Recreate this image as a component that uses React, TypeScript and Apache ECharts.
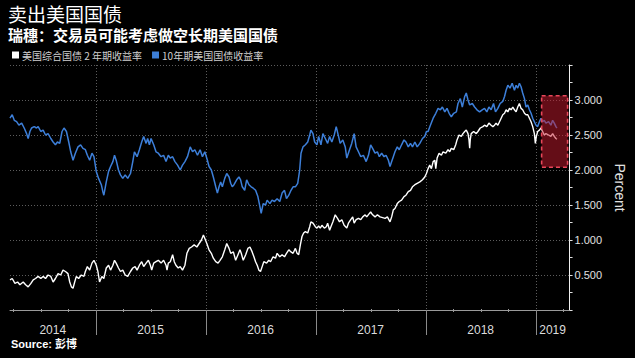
import React, { useEffect, useRef } from 'react';
import * as echarts from 'echarts';

const LATIN = "'Liberation Sans', 'Noto Sans CJK SC', sans-serif";
const CJK = "'Noto Sans CJK SC', 'Liberation Sans', sans-serif";

const titleText = '卖出美国国债';
const subtitleText = '瑞穗：交易员可能考虑做空长期美国国债';
const sourceText = 'Source: 彭博';
const twoYearName = '美国综合国债 2 年期收益率';
const tenYearName = '10年期美国国债收益率';

// x axis: fractional years
const xMin = 2014.222;
const xMax = 2019.308;
const yearStarts = [2015, 2016, 2017, 2018, 2019];
const yearLabels = ['2014', '2015', '2016', '2017', '2018', '2019'];
const yearLabelPos = [2014.611, 2015.5, 2016.5, 2017.5, 2018.5, 2019.154];
const quarterTicks = [
  2014.25, 2014.5, 2014.75, 2015.25, 2015.5, 2015.75, 2016.25, 2016.5, 2016.75,
  2017.25, 2017.5, 2017.75, 2018.25, 2018.5, 2018.75, 2019.25,
];
// highlighted zone [x0, yLow, x1, yHigh]
const highlightBox = [2019.054, 2.04, 2019.29, 3.06];

const tenYear: [number, number][] = [
  [2014.222, 2.74], [2014.242, 2.79], [2014.261, 2.71], [2014.282, 2.69], [2014.303, 2.64],
  [2014.328, 2.67], [2014.351, 2.6], [2014.373, 2.52], [2014.387, 2.45], [2014.403, 2.55],
  [2014.418, 2.6], [2014.442, 2.62], [2014.463, 2.6], [2014.478, 2.62], [2014.502, 2.55],
  [2014.523, 2.57], [2014.545, 2.5], [2014.568, 2.52], [2014.593, 2.45], [2014.614, 2.4],
  [2014.635, 2.36], [2014.653, 2.4], [2014.674, 2.38], [2014.695, 2.55], [2014.713, 2.6],
  [2014.735, 2.55], [2014.756, 2.4], [2014.774, 2.26], [2014.795, 2.14], [2014.816, 2.24],
  [2014.84, 2.33], [2014.864, 2.36], [2014.885, 2.31], [2014.907, 2.29], [2014.925, 2.21],
  [2014.946, 2.14], [2014.967, 2.24], [2014.985, 2.19], [2015.006, 1.98], [2015.027, 1.88],
  [2015.052, 1.79], [2015.066, 1.69], [2015.075, 1.64], [2015.097, 1.83], [2015.118, 1.98],
  [2015.136, 2.05], [2015.157, 2.12], [2015.172, 2.21], [2015.187, 2.14], [2015.208, 2.0],
  [2015.226, 1.93], [2015.247, 1.88], [2015.269, 1.93], [2015.292, 1.88], [2015.317, 1.95],
  [2015.338, 2.12], [2015.353, 2.26], [2015.377, 2.19], [2015.398, 2.29], [2015.419, 2.4],
  [2015.437, 2.48], [2015.459, 2.38], [2015.473, 2.45], [2015.489, 2.36], [2015.504, 2.45],
  [2015.528, 2.36], [2015.549, 2.26], [2015.57, 2.24], [2015.595, 2.19], [2015.618, 2.21],
  [2015.64, 2.12], [2015.661, 2.21], [2015.679, 2.17], [2015.7, 2.19], [2015.721, 2.12],
  [2015.745, 2.07], [2015.769, 2.0], [2015.79, 2.07], [2015.812, 2.12], [2015.835, 2.19],
  [2015.86, 2.33], [2015.881, 2.26], [2015.902, 2.29], [2015.926, 2.21], [2015.95, 2.29],
  [2015.971, 2.19], [2015.993, 2.26], [2016.016, 2.14], [2016.031, 2.05], [2016.052, 2.0],
  [2016.07, 1.9], [2016.092, 1.76], [2016.107, 1.67], [2016.122, 1.76], [2016.137, 1.83],
  [2016.152, 1.76], [2016.174, 1.88], [2016.192, 1.95], [2016.213, 1.9], [2016.228, 1.81],
  [2016.242, 1.76], [2016.258, 1.79], [2016.282, 1.86], [2016.303, 1.9], [2016.318, 1.86],
  [2016.333, 1.76], [2016.355, 1.71], [2016.373, 1.86], [2016.394, 1.79], [2016.414, 1.76],
  [2016.433, 1.74], [2016.454, 1.71], [2016.475, 1.62], [2016.493, 1.48], [2016.505, 1.38],
  [2016.523, 1.52], [2016.545, 1.5], [2016.559, 1.57], [2016.584, 1.52], [2016.604, 1.57],
  [2016.626, 1.55], [2016.65, 1.59], [2016.674, 1.55], [2016.695, 1.67], [2016.717, 1.71],
  [2016.735, 1.59], [2016.756, 1.64], [2016.776, 1.71], [2016.795, 1.76], [2016.816, 1.76],
  [2016.837, 1.81], [2016.855, 2.0], [2016.867, 2.24], [2016.885, 2.33], [2016.907, 2.36],
  [2016.928, 2.4], [2016.946, 2.5], [2016.957, 2.57], [2016.976, 2.52], [2016.991, 2.4],
  [2017.012, 2.36], [2017.027, 2.48], [2017.048, 2.36], [2017.066, 2.52], [2017.088, 2.45],
  [2017.109, 2.38], [2017.127, 2.48], [2017.147, 2.4], [2017.169, 2.5], [2017.187, 2.62],
  [2017.208, 2.48], [2017.223, 2.38], [2017.247, 2.43], [2017.269, 2.33], [2017.283, 2.17],
  [2017.308, 2.29], [2017.328, 2.38], [2017.35, 2.52], [2017.368, 2.33], [2017.389, 2.26],
  [2017.41, 2.19], [2017.434, 2.21], [2017.459, 2.12], [2017.48, 2.21], [2017.5, 2.36],
  [2017.518, 2.31], [2017.54, 2.24], [2017.561, 2.26], [2017.579, 2.19], [2017.6, 2.24],
  [2017.622, 2.19], [2017.64, 2.21], [2017.661, 2.14], [2017.676, 2.05], [2017.691, 2.12],
  [2017.706, 2.19], [2017.721, 2.26], [2017.742, 2.33], [2017.76, 2.29], [2017.781, 2.36],
  [2017.803, 2.43], [2017.821, 2.4], [2017.842, 2.33], [2017.862, 2.38], [2017.88, 2.33],
  [2017.902, 2.4], [2017.923, 2.33], [2017.947, 2.38], [2017.971, 2.45], [2017.992, 2.48],
  [2018.007, 2.55], [2018.022, 2.55], [2018.043, 2.64], [2018.068, 2.74], [2018.092, 2.81],
  [2018.113, 2.88], [2018.134, 2.86], [2018.152, 2.9], [2018.174, 2.83], [2018.194, 2.88],
  [2018.213, 2.81], [2018.233, 2.76], [2018.255, 2.81], [2018.279, 2.83], [2018.294, 2.95],
  [2018.315, 3.02], [2018.333, 2.9], [2018.355, 3.05], [2018.369, 3.1], [2018.385, 3.0],
  [2018.4, 2.93], [2018.424, 2.95], [2018.445, 2.9], [2018.466, 2.86], [2018.49, 2.83],
  [2018.514, 2.86], [2018.535, 2.88], [2018.556, 2.83], [2018.575, 2.9], [2018.595, 2.86],
  [2018.617, 2.95], [2018.635, 2.83], [2018.656, 2.88], [2018.677, 2.95], [2018.701, 2.98],
  [2018.717, 3.05], [2018.731, 3.14], [2018.747, 3.21], [2018.767, 3.17], [2018.786, 3.24],
  [2018.807, 3.14], [2018.822, 3.21], [2018.837, 3.17], [2018.852, 3.24], [2018.867, 3.19],
  [2018.882, 3.1], [2018.898, 3.02], [2018.912, 2.9], [2018.928, 2.93], [2018.943, 2.86],
  [2018.958, 2.81], [2018.973, 2.74], [2018.988, 2.69], [2019.003, 2.64], [2019.018, 2.62],
  [2019.034, 2.69], [2019.048, 2.74], [2019.063, 2.69], [2019.078, 2.71], [2019.093, 2.67],
  [2019.117, 2.69], [2019.138, 2.64], [2019.154, 2.71], [2019.169, 2.67], [2019.184, 2.62],
  [2019.193, 2.6],
];

const twoYear: [number, number][] = [
  [2014.222, 0.43], [2014.242, 0.45], [2014.267, 0.38], [2014.291, 0.4], [2014.312, 0.36],
  [2014.342, 0.4], [2014.364, 0.36], [2014.387, 0.33], [2014.412, 0.38], [2014.433, 0.43],
  [2014.454, 0.45], [2014.478, 0.48], [2014.502, 0.45], [2014.523, 0.48], [2014.545, 0.45],
  [2014.568, 0.5], [2014.593, 0.48], [2014.614, 0.4], [2014.635, 0.45], [2014.659, 0.52],
  [2014.683, 0.5], [2014.704, 0.57], [2014.726, 0.55], [2014.749, 0.52], [2014.765, 0.4],
  [2014.78, 0.33], [2014.795, 0.31], [2014.81, 0.4], [2014.825, 0.48], [2014.846, 0.45],
  [2014.87, 0.5], [2014.894, 0.48], [2014.907, 0.55], [2014.925, 0.62], [2014.946, 0.57],
  [2014.967, 0.67], [2014.985, 0.71], [2015.006, 0.64], [2015.021, 0.55], [2015.036, 0.4],
  [2015.057, 0.48], [2015.075, 0.45], [2015.097, 0.6], [2015.118, 0.64], [2015.136, 0.57],
  [2015.157, 0.64], [2015.172, 0.71], [2015.187, 0.67], [2015.208, 0.6], [2015.226, 0.55],
  [2015.247, 0.57], [2015.269, 0.5], [2015.292, 0.48], [2015.317, 0.55], [2015.338, 0.6],
  [2015.359, 0.62], [2015.377, 0.57], [2015.398, 0.64], [2015.419, 0.69], [2015.437, 0.62],
  [2015.459, 0.67], [2015.48, 0.71], [2015.498, 0.64], [2015.51, 0.57], [2015.528, 0.67],
  [2015.549, 0.69], [2015.57, 0.71], [2015.595, 0.67], [2015.618, 0.71], [2015.64, 0.64],
  [2015.649, 0.57], [2015.661, 0.67], [2015.679, 0.69], [2015.7, 0.79], [2015.715, 0.69],
  [2015.73, 0.64], [2015.751, 0.6], [2015.769, 0.62], [2015.79, 0.57], [2015.812, 0.64],
  [2015.83, 0.81], [2015.851, 0.88], [2015.872, 0.9], [2015.896, 0.93], [2015.92, 0.9],
  [2015.941, 0.95], [2015.962, 1.0], [2015.98, 1.07], [2015.993, 1.02], [2016.011, 0.95],
  [2016.031, 0.86], [2016.052, 0.81], [2016.07, 0.74], [2016.092, 0.69], [2016.113, 0.67],
  [2016.131, 0.71], [2016.152, 0.76], [2016.174, 0.86], [2016.192, 0.95], [2016.213, 0.88],
  [2016.228, 0.81], [2016.252, 0.83], [2016.273, 0.71], [2016.294, 0.79], [2016.312, 0.86],
  [2016.324, 0.81], [2016.342, 0.71], [2016.364, 0.79], [2016.384, 0.88], [2016.403, 0.9],
  [2016.423, 0.83], [2016.439, 0.76], [2016.454, 0.69], [2016.469, 0.64], [2016.484, 0.57],
  [2016.499, 0.55], [2016.514, 0.62], [2016.529, 0.69], [2016.554, 0.67], [2016.574, 0.71],
  [2016.59, 0.69], [2016.613, 0.76], [2016.635, 0.74], [2016.65, 0.81], [2016.674, 0.76],
  [2016.695, 0.79], [2016.717, 0.76], [2016.735, 0.81], [2016.756, 0.86], [2016.776, 0.83],
  [2016.795, 0.81], [2016.816, 0.88], [2016.831, 0.81], [2016.846, 0.79], [2016.861, 0.93],
  [2016.876, 1.05], [2016.891, 1.1], [2016.907, 1.12], [2016.928, 1.1], [2016.946, 1.19],
  [2016.957, 1.26], [2016.976, 1.24], [2016.997, 1.19], [2017.012, 1.17], [2017.027, 1.2],
  [2017.042, 1.17], [2017.057, 1.21], [2017.079, 1.17], [2017.097, 1.19], [2017.109, 1.24],
  [2017.127, 1.14], [2017.139, 1.19], [2017.157, 1.26], [2017.178, 1.36], [2017.199, 1.31],
  [2017.217, 1.26], [2017.238, 1.29], [2017.259, 1.21], [2017.283, 1.17], [2017.298, 1.24],
  [2017.319, 1.29], [2017.337, 1.33], [2017.35, 1.24], [2017.368, 1.29], [2017.389, 1.31],
  [2017.41, 1.29], [2017.428, 1.33], [2017.45, 1.36], [2017.464, 1.33], [2017.489, 1.38],
  [2017.5, 1.4], [2017.518, 1.36], [2017.54, 1.33], [2017.561, 1.36], [2017.585, 1.33],
  [2017.609, 1.32], [2017.631, 1.31], [2017.652, 1.33], [2017.676, 1.26], [2017.691, 1.33],
  [2017.706, 1.43], [2017.721, 1.45], [2017.742, 1.52], [2017.76, 1.55], [2017.781, 1.57],
  [2017.803, 1.62], [2017.821, 1.64], [2017.842, 1.69], [2017.862, 1.71], [2017.88, 1.76],
  [2017.902, 1.79], [2017.923, 1.81], [2017.947, 1.83], [2017.971, 1.86], [2017.992, 1.9],
  [2018.007, 1.95], [2018.022, 2.02], [2018.037, 2.07], [2018.052, 2.02], [2018.068, 2.12],
  [2018.083, 2.14], [2018.092, 2.02], [2018.104, 2.17], [2018.122, 2.24], [2018.143, 2.21],
  [2018.158, 2.26], [2018.183, 2.24], [2018.203, 2.29], [2018.219, 2.26], [2018.233, 2.31],
  [2018.255, 2.29], [2018.273, 2.36], [2018.285, 2.43], [2018.303, 2.5], [2018.324, 2.48],
  [2018.339, 2.52], [2018.355, 2.55], [2018.369, 2.57], [2018.385, 2.52], [2018.394, 2.43],
  [2018.4, 2.31], [2018.405, 2.43], [2018.414, 2.52], [2018.436, 2.55], [2018.46, 2.52],
  [2018.475, 2.55], [2018.496, 2.6], [2018.52, 2.62], [2018.535, 2.64], [2018.556, 2.62],
  [2018.575, 2.67], [2018.595, 2.64], [2018.611, 2.62], [2018.626, 2.64], [2018.64, 2.67],
  [2018.656, 2.64], [2018.671, 2.69], [2018.686, 2.74], [2018.701, 2.79], [2018.717, 2.81],
  [2018.731, 2.86], [2018.747, 2.83], [2018.762, 2.88], [2018.777, 2.86], [2018.792, 2.9],
  [2018.807, 2.86], [2018.822, 2.83], [2018.837, 2.9], [2018.852, 2.95], [2018.867, 2.88],
  [2018.882, 2.86], [2018.898, 2.81], [2018.912, 2.79], [2018.928, 2.79], [2018.943, 2.74],
  [2018.958, 2.69], [2018.973, 2.62], [2018.988, 2.52], [2018.997, 2.38], [2019.006, 2.48],
  [2019.018, 2.55], [2019.034, 2.57], [2019.048, 2.6], [2019.063, 2.55], [2019.078, 2.5],
  [2019.093, 2.52], [2019.117, 2.5], [2019.138, 2.48], [2019.154, 2.52], [2019.169, 2.48],
  [2019.184, 2.45], [2019.193, 2.44],
];

const yMin = 0;
const yMax = 3.5;
const yInterval = 0.5;

function buildOption(): any {
  return {
    animation: false,
    backgroundColor: '#000',
    title: [
      {
        text: titleText,
        left: 8,
        top: 6,
        padding: 0,
        textStyle: { color: '#fff', fontSize: 19, fontWeight: 'normal', fontFamily: LATIN, lineHeight: 19 },
      },
      {
        text: subtitleText,
        left: 8,
        top: 28,
        padding: 0,
        textStyle: { color: '#fff', fontSize: 15, fontWeight: 'bold', fontFamily: LATIN, lineHeight: 15 },
      },
      {
        text: sourceText,
        left: 11,
        top: 338,
        padding: 0,
        textStyle: { color: '#fff', fontSize: 11, fontWeight: 'bold', fontFamily: LATIN },
      },
    ],
    legend: {
      data: [twoYearName, tenYearName],
      left: 12,
      top: 50,
      padding: 0,
      icon: 'rect',
      itemWidth: 7,
      itemHeight: 7,
      itemGap: 10,
      selectedMode: false,
      textStyle: { color: '#d0d0d0', fontSize: 10, fontFamily: CJK, padding: [0, 0, 0, -2] },
    },
    grid: { left: 10, right: 63, top: 65, bottom: 48, containLabel: false },
    xAxis: {
      type: 'value',
      min: xMin,
      max: xMax,
      axisLine: { show: true, onZero: false, lineStyle: { color: '#9a9a9a', width: 1 } },
      axisTick: { show: false },
      axisLabel: { show: false },
      splitLine: { show: false },
    },
    yAxis: {
      type: 'value',
      position: 'right',
      min: yMin,
      max: yMax,
      interval: yInterval,
      name: 'Percent',
      nameLocation: 'middle',
      nameRotate: -90,
      nameGap: 42,
      nameTextStyle: { color: '#e0e0e0', fontSize: 14, fontFamily: LATIN },
      axisLine: { show: true, lineStyle: { color: '#f0f0f0', width: 1 } },
      axisTick: { show: true, length: 3, lineStyle: { color: '#e0e0e0' } },
      minorTick: { show: true, splitNumber: 2, length: 3, lineStyle: { color: '#e0e0e0' } },
      axisLabel: {
        color: '#e0e0e0',
        fontSize: 11,
        fontFamily: LATIN,
        margin: 5,
        formatter: (v: number) => (v <= yMin || v >= yMax ? '' : v.toFixed(3)),
      },
      splitLine: { show: true, lineStyle: { color: '#5c5c5c', width: 1, type: [1, 2] } },
    },
    series: [
      {
        name: 'yearGrid',
        type: 'custom',
        silent: true,
        z: 1,
        data: yearStarts.map((t) => [t, 0]),
        renderItem: (params: any, api: any) => {
          const cs = params.coordSys;
          const p = api.coord([api.value(0), 0]);
          const x = Math.round(p[0]) + 0.5;
          return {
            type: 'group',
            children: [
              {
                type: 'line',
                shape: { x1: x, y1: cs.y, x2: x, y2: cs.y + cs.height },
                style: { stroke: '#5c5c5c', lineWidth: 1, lineDash: [1, 2] },
              },
              {
                type: 'line',
                shape: { x1: x, y1: cs.y + cs.height, x2: x, y2: cs.y + cs.height + 25 },
                style: { stroke: '#8a8a8a', lineWidth: 1 },
              },
            ],
          };
        },
      },
      {
        name: 'quarterTicks',
        type: 'custom',
        silent: true,
        z: 1,
        data: quarterTicks.map((t) => [t, 0]),
        renderItem: (params: any, api: any) => {
          const cs = params.coordSys;
          const p = api.coord([api.value(0), 0]);
          const x = Math.round(p[0]) + 0.5;
          const yb = cs.y + cs.height;
          return {
            type: 'line',
            shape: { x1: x, y1: yb - 1, x2: x, y2: yb + 2 },
            style: { stroke: '#9a9a9a', lineWidth: 1 },
          };
        },
      },
      {
        name: 'yearLabels',
        type: 'custom',
        silent: true,
        z: 1,
        data: yearLabelPos.map((t) => [t, 0]),
        renderItem: (params: any, api: any) => {
          const cs = params.coordSys;
          const p = api.coord([api.value(0), 0]);
          return {
            type: 'text',
            style: {
              text: yearLabels[params.dataIndex],
              x: p[0],
              y: cs.y + cs.height + 20,
              align: 'center',
              verticalAlign: 'middle',
              fill: '#dcdcdc',
              fontSize: 12,
              fontFamily: LATIN,
            },
          };
        },
      },
      {
        name: tenYearName,
        type: 'line',
        data: tenYear,
        showSymbol: false,
        symbol: 'none',
        z: 3,
        color: '#3d7fd9',
        lineStyle: { color: '#3d7fd9', width: 1.5 },
      },
      {
        name: twoYearName,
        type: 'line',
        data: twoYear,
        showSymbol: false,
        symbol: 'none',
        z: 4,
        color: '#ffffff',
        lineStyle: { color: '#ffffff', width: 1.4 },
      },
      {
        name: 'highlight',
        type: 'custom',
        silent: true,
        z: 10,
        encode: { x: [0, 2], y: [1, 3] },
        data: [highlightBox],
        renderItem: (params: any, api: any) => {
          const tl = api.coord([api.value(0), api.value(3)]);
          const br = api.coord([api.value(2), api.value(1)]);
          return {
            type: 'rect',
            shape: { x: tl[0], y: tl[1], width: br[0] - tl[0], height: br[1] - tl[1] },
            style: {
              fill: 'rgba(200,25,45,0.5)',
              stroke: '#e8475a',
              lineWidth: 1.6,
              lineDash: [4, 3],
            },
          };
        },
      },
    ],
  };
}

export default function App() {
  const ref = useRef<HTMLDivElement>(null);
  useEffect(() => {
    document.body.style.margin = '0';
    document.body.style.background = '#000';
    const chart = echarts.init(ref.current as HTMLDivElement, null, { renderer: 'svg' });
    chart.setOption(buildOption());
    return () => chart.dispose();
  }, []);
  return <div ref={ref} style={{ width: 635, height: 358, background: '#000' }} />;
}
